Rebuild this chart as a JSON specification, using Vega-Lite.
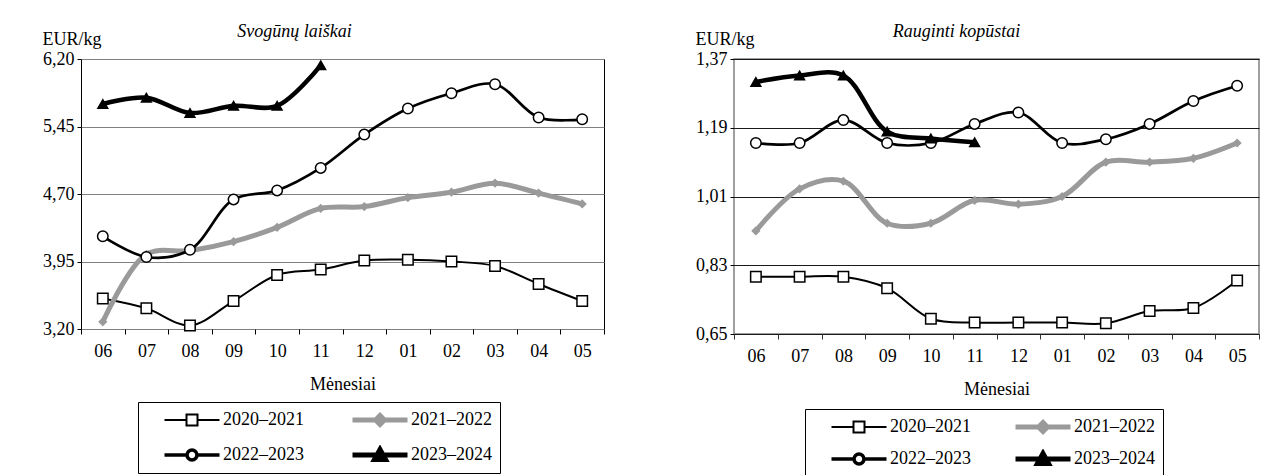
{
  "$schema": "https://vega.github.io/schema/vega-lite/v6.json",
  "background": "white",
  "padding": {"left": 41, "top": 22, "right": 5, "bottom": 0},
  "bounds": "flush",
  "spacing": 130,
  "config": {
    "font": "Liberation Serif",
    "axis": {"labelFont": "Liberation Serif", "titleFont": "Liberation Serif", "labelFontSize": 18, "titleFontSize": 18, "labelColor": "black", "titleColor": "black", "titleFontWeight": "normal", "tickColor": "black"},
    "legend": {"labelFont": "Liberation Serif", "labelFontSize": 18, "labelColor": "black"}
  },
  "datasets": {
    "left": [
      {"s": "2020–2021", "m": "06", "v": 3.54}, {"s": "2020–2021", "m": "07", "v": 3.43}, {"s": "2020–2021", "m": "08", "v": 3.24}, {"s": "2020–2021", "m": "09", "v": 3.51}, {"s": "2020–2021", "m": "10", "v": 3.80}, {"s": "2020–2021", "m": "11", "v": 3.86}, {"s": "2020–2021", "m": "12", "v": 3.96}, {"s": "2020–2021", "m": "01", "v": 3.97}, {"s": "2020–2021", "m": "02", "v": 3.95}, {"s": "2020–2021", "m": "03", "v": 3.90}, {"s": "2020–2021", "m": "04", "v": 3.70}, {"s": "2020–2021", "m": "05", "v": 3.51},
      {"s": "2021–2022", "m": "06", "v": 3.28}, {"s": "2021–2022", "m": "07", "v": 4.03}, {"s": "2021–2022", "m": "08", "v": 4.07}, {"s": "2021–2022", "m": "09", "v": 4.17}, {"s": "2021–2022", "m": "10", "v": 4.33}, {"s": "2021–2022", "m": "11", "v": 4.54}, {"s": "2021–2022", "m": "12", "v": 4.56}, {"s": "2021–2022", "m": "01", "v": 4.66}, {"s": "2021–2022", "m": "02", "v": 4.72}, {"s": "2021–2022", "m": "03", "v": 4.82}, {"s": "2021–2022", "m": "04", "v": 4.71}, {"s": "2021–2022", "m": "05", "v": 4.59},
      {"s": "2022–2023", "m": "06", "v": 4.23}, {"s": "2022–2023", "m": "07", "v": 4.00}, {"s": "2022–2023", "m": "08", "v": 4.08}, {"s": "2022–2023", "m": "09", "v": 4.64}, {"s": "2022–2023", "m": "10", "v": 4.74}, {"s": "2022–2023", "m": "11", "v": 4.99}, {"s": "2022–2023", "m": "12", "v": 5.36}, {"s": "2022–2023", "m": "01", "v": 5.65}, {"s": "2022–2023", "m": "02", "v": 5.82}, {"s": "2022–2023", "m": "03", "v": 5.92}, {"s": "2022–2023", "m": "04", "v": 5.55}, {"s": "2022–2023", "m": "05", "v": 5.53},
      {"s": "2023–2024", "m": "06", "v": 5.70}, {"s": "2023–2024", "m": "07", "v": 5.77}, {"s": "2023–2024", "m": "08", "v": 5.60}, {"s": "2023–2024", "m": "09", "v": 5.68}, {"s": "2023–2024", "m": "10", "v": 5.68}, {"s": "2023–2024", "m": "11", "v": 6.13}
    ],
    "right": [
      {"s": "2020–2021", "m": "06", "v": 0.80}, {"s": "2020–2021", "m": "07", "v": 0.80}, {"s": "2020–2021", "m": "08", "v": 0.80}, {"s": "2020–2021", "m": "09", "v": 0.77}, {"s": "2020–2021", "m": "10", "v": 0.69}, {"s": "2020–2021", "m": "11", "v": 0.68}, {"s": "2020–2021", "m": "12", "v": 0.68}, {"s": "2020–2021", "m": "01", "v": 0.68}, {"s": "2020–2021", "m": "02", "v": 0.678}, {"s": "2020–2021", "m": "03", "v": 0.71}, {"s": "2020–2021", "m": "04", "v": 0.718}, {"s": "2020–2021", "m": "05", "v": 0.79},
      {"s": "2021–2022", "m": "06", "v": 0.92}, {"s": "2021–2022", "m": "07", "v": 1.03}, {"s": "2021–2022", "m": "08", "v": 1.05}, {"s": "2021–2022", "m": "09", "v": 0.94}, {"s": "2021–2022", "m": "10", "v": 0.94}, {"s": "2021–2022", "m": "11", "v": 1.00}, {"s": "2021–2022", "m": "12", "v": 0.99}, {"s": "2021–2022", "m": "01", "v": 1.01}, {"s": "2021–2022", "m": "02", "v": 1.10}, {"s": "2021–2022", "m": "03", "v": 1.10}, {"s": "2021–2022", "m": "04", "v": 1.11}, {"s": "2021–2022", "m": "05", "v": 1.15},
      {"s": "2022–2023", "m": "06", "v": 1.15}, {"s": "2022–2023", "m": "07", "v": 1.15}, {"s": "2022–2023", "m": "08", "v": 1.21}, {"s": "2022–2023", "m": "09", "v": 1.15}, {"s": "2022–2023", "m": "10", "v": 1.15}, {"s": "2022–2023", "m": "11", "v": 1.20}, {"s": "2022–2023", "m": "12", "v": 1.23}, {"s": "2022–2023", "m": "01", "v": 1.15}, {"s": "2022–2023", "m": "02", "v": 1.16}, {"s": "2022–2023", "m": "03", "v": 1.20}, {"s": "2022–2023", "m": "04", "v": 1.26}, {"s": "2022–2023", "m": "05", "v": 1.30},
      {"s": "2023–2024", "m": "06", "v": 1.31}, {"s": "2023–2024", "m": "07", "v": 1.327}, {"s": "2023–2024", "m": "08", "v": 1.327}, {"s": "2023–2024", "m": "09", "v": 1.18}, {"s": "2023–2024", "m": "10", "v": 1.162}, {"s": "2023–2024", "m": "11", "v": 1.152}
    ]
  },
  "hconcat": [
    {
      "width": 523, "height": 270,
      "view": {"stroke": "black", "strokeWidth": 1},
      "title": {"text": "Svogūnų laiškai", "font": "Liberation Serif", "fontStyle": "italic", "fontWeight": "normal", "fontSize": 18, "color": "black", "frame": "group", "anchor": "middle", "dx": -48, "offset": -11},
      "data": {"name": "left"},
      "encoding": {
        "x": {"field": "m", "type": "ordinal", "sort": ["06","07","08","09","10","11","12","01","02","03","04","05"], "scale": {"type": "band", "paddingInner": 0, "paddingOuter": 0}, "axis": {"title": "Mėnesiai", "labelAngle": 0, "tickBand": "extent", "tickSize": 5, "labelPadding": 8, "titlePadding": 15, "domain": false, "grid": false}},
        "y": {"field": "v", "type": "quantitative", "scale": {"domain": [3.2, 6.2], "nice": false, "zero": false}, "axis": {"values": [3.2, 3.95, 4.7, 5.45, 6.2], "labelExpr": "replace(format(datum.value, '.2f'), '.', ',')", "title": "EUR/kg", "titleAngle": 0, "titleAlign": "left", "titleBaseline": "alphabetic", "titleX": -39, "titleY": -15, "grid": true, "gridColor": "#808080", "tickSize": 4, "labelPadding": 3, "domain": false}}
      },
      "layer": [
        {"mark": {"type": "line", "interpolate": "catmull-rom"},
         "encoding": {
           "color": {"field": "s", "type": "nominal", "scale": {"domain": ["2020–2021","2021–2022","2022–2023","2023–2024"], "range": ["black", "#9a9a9a", "black", "black"]}, "legend": null},
           "strokeWidth": {"field": "s", "type": "nominal", "scale": {"type": "ordinal", "domain": ["2020–2021","2021–2022","2022–2023","2023–2024"], "range": [2, 5, 2.7, 4.5]}, "legend": null}
         }},
        {"mark": {"type": "point", "filled": true, "opacity": 1, "strokeWidth": 1.5},
         "encoding": {
           "shape": {"field": "s", "type": "nominal", "scale": {"domain": ["2020–2021","2021–2022","2022–2023","2023–2024"], "range": ["square", "diamond", "circle", "triangle-up"]}, "legend": null},
           "fill": {"field": "s", "type": "nominal", "scale": {"domain": ["2020–2021","2021–2022","2022–2023","2023–2024"], "range": ["white", "#9a9a9a", "white", "black"]}, "legend": null},
           "stroke": {"field": "s", "type": "nominal", "scale": {"domain": ["2020–2021","2021–2022","2022–2023","2023–2024"], "range": ["black", "#9a9a9a", "black", "black"]}, "legend": null},
           "size": {"field": "s", "type": "nominal", "scale": {"type": "ordinal", "domain": ["2020–2021","2021–2022","2022–2023","2023–2024"], "range": [110, 50, 110, 95]}, "legend": null}
         }},
        {"mark": {"type": "point", "filled": true, "opacity": 0},
         "encoding": {
           "shape": {"field": "s", "type": "nominal", "scale": {"domain": ["2020–2021","2021–2022","2022–2023","2023–2024"], "range": ["M-1,0H-0.2M0.2,0H1M-0.2,-0.2H0.2V0.2H-0.2Z", "M-1,0H1M0,-0.16L0.16,0L0,0.16L-0.16,0Z", "M-1,0H-0.18M0.18,0H1M-0.18,0A0.18,0.18 0 1 0 0.18,0A0.18,0.18 0 1 0 -0.18,0Z", "M-1,0H1M-0.2,0.16L0,-0.2L0.2,0.16Z"]},
             "legend": {"title": null, "orient": "none", "legendX": 57, "legendY": 343, "direction": "horizontal", "columns": 2, "symbolSize": 3025, "clipHeight": 20, "symbolOffset": 16, "labelOffset": 1, "columnPadding": 30, "rowPadding": 15, "padding": 8, "strokeColor": "black", "labelFontSize": 18, "labelFont": "Liberation Serif", "symbolOpacity": 1, "encode": {"symbols": {"update": {"opacity": {"value": 1}}}}}},
           "fill": {"field": "s", "type": "nominal", "scale": {"domain": ["2020–2021","2021–2022","2022–2023","2023–2024"], "range": ["white", "#9a9a9a", "white", "black"]}},
           "stroke": {"field": "s", "type": "nominal", "scale": {"domain": ["2020–2021","2021–2022","2022–2023","2023–2024"], "range": ["black", "#9a9a9a", "black", "black"]}},
           "strokeWidth": {"field": "s", "type": "nominal", "scale": {"type": "ordinal", "domain": ["2020–2021","2021–2022","2022–2023","2023–2024"], "range": [2, 5, 3.5, 5]}}
         }}
      ],
      "resolve": {"scale": {"shape": "independent", "fill": "independent", "stroke": "independent", "strokeWidth": "independent", "color": "independent", "size": "independent"}}
    },
    {
      "width": 525, "height": 275,
      "view": {"stroke": "#808080", "strokeWidth": 1.5},
      "title": {"text": "Rauginti kopūstai", "font": "Liberation Serif", "fontStyle": "italic", "fontWeight": "normal", "fontSize": 18, "color": "black", "frame": "group", "anchor": "middle", "dx": -40, "offset": -11},
      "data": {"name": "right"},
      "encoding": {
        "x": {"field": "m", "type": "ordinal", "sort": ["06","07","08","09","10","11","12","01","02","03","04","05"], "scale": {"type": "band", "paddingInner": 0, "paddingOuter": 0}, "axis": {"title": "Mėnesiai", "labelAngle": 0, "tickBand": "extent", "tickSize": 5, "tickColor": "#333333", "labelPadding": 8, "titlePadding": 15, "domain": false, "grid": false}},
        "y": {"field": "v", "type": "quantitative", "scale": {"domain": [0.65, 1.37], "nice": false, "zero": false}, "axis": {"values": [0.65, 0.83, 1.01, 1.19, 1.37], "labelExpr": "replace(format(datum.value, '.2f'), '.', ',')", "title": "EUR/kg", "titleAngle": 0, "titleAlign": "left", "titleBaseline": "alphabetic", "titleX": -39, "titleY": -15, "grid": true, "gridColor": "#1a1a1a", "tickSize": 4, "labelPadding": 3, "domain": false}}
      },
      "layer": [
        {"mark": {"type": "line", "interpolate": "catmull-rom"},
         "encoding": {
           "color": {"field": "s", "type": "nominal", "scale": {"domain": ["2020–2021","2021–2022","2022–2023","2023–2024"], "range": ["black", "#9a9a9a", "black", "black"]}, "legend": null},
           "strokeWidth": {"field": "s", "type": "nominal", "scale": {"type": "ordinal", "domain": ["2020–2021","2021–2022","2022–2023","2023–2024"], "range": [2, 5, 2.7, 4.5]}, "legend": null}
         }},
        {"mark": {"type": "point", "filled": true, "opacity": 1, "strokeWidth": 1.5},
         "encoding": {
           "shape": {"field": "s", "type": "nominal", "scale": {"domain": ["2020–2021","2021–2022","2022–2023","2023–2024"], "range": ["square", "diamond", "circle", "triangle-up"]}, "legend": null},
           "fill": {"field": "s", "type": "nominal", "scale": {"domain": ["2020–2021","2021–2022","2022–2023","2023–2024"], "range": ["white", "#9a9a9a", "white", "black"]}, "legend": null},
           "stroke": {"field": "s", "type": "nominal", "scale": {"domain": ["2020–2021","2021–2022","2022–2023","2023–2024"], "range": ["black", "#9a9a9a", "black", "black"]}, "legend": null},
           "size": {"field": "s", "type": "nominal", "scale": {"type": "ordinal", "domain": ["2020–2021","2021–2022","2022–2023","2023–2024"], "range": [110, 50, 110, 95]}, "legend": null}
         }},
        {"mark": {"type": "point", "filled": true, "opacity": 0},
         "encoding": {
           "shape": {"field": "s", "type": "nominal", "scale": {"domain": ["2020–2021","2021–2022","2022–2023","2023–2024"], "range": ["M-1,0H-0.2M0.2,0H1M-0.2,-0.2H0.2V0.2H-0.2Z", "M-1,0H1M0,-0.16L0.16,0L0,0.16L-0.16,0Z", "M-1,0H-0.18M0.18,0H1M-0.18,0A0.18,0.18 0 1 0 0.18,0A0.18,0.18 0 1 0 -0.18,0Z", "M-1,0H1M-0.2,0.16L0,-0.2L0.2,0.16Z"]},
             "legend": {"title": null, "orient": "none", "legendX": 71, "legendY": 350, "direction": "horizontal", "columns": 2, "symbolSize": 3025, "clipHeight": 20, "symbolOffset": 16, "labelOffset": 1, "columnPadding": 26, "rowPadding": 12, "padding": 8, "strokeColor": "black", "labelFontSize": 18, "labelFont": "Liberation Serif", "symbolOpacity": 1, "encode": {"symbols": {"update": {"opacity": {"value": 1}}}}}},
           "fill": {"field": "s", "type": "nominal", "scale": {"domain": ["2020–2021","2021–2022","2022–2023","2023–2024"], "range": ["white", "#9a9a9a", "white", "black"]}},
           "stroke": {"field": "s", "type": "nominal", "scale": {"domain": ["2020–2021","2021–2022","2022–2023","2023–2024"], "range": ["black", "#9a9a9a", "black", "black"]}},
           "strokeWidth": {"field": "s", "type": "nominal", "scale": {"type": "ordinal", "domain": ["2020–2021","2021–2022","2022–2023","2023–2024"], "range": [2, 5, 3.5, 5]}}
         }}
      ],
      "resolve": {"scale": {"shape": "independent", "fill": "independent", "stroke": "independent", "strokeWidth": "independent", "color": "independent", "size": "independent"}}
    }
  ]
}
